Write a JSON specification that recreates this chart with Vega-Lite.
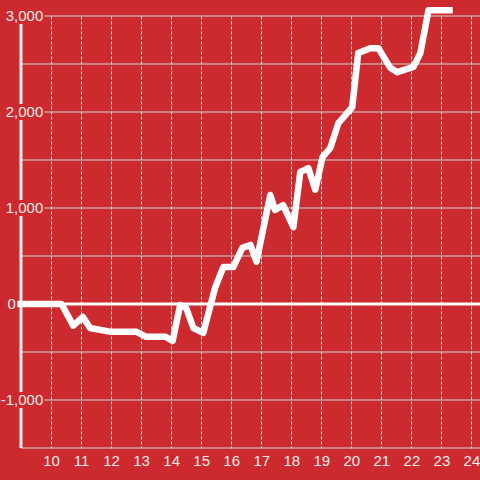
{
  "$schema": "https://vega.github.io/schema/vega-lite/v6.json",
  "autosize": {"type": "none"},
  "padding": {"left": 21, "top": 16, "right": 0, "bottom": 32},
  "width": 459,
  "height": 432,
  "background": "#cc2a2f",
  "config": {
    "view": {"stroke": null},
    "font": "Liberation Sans",
    "axisX": {
      "labelOverlap": false, "labelFlush": false, "tickCount": 15,
      "grid": true, "gridDash": [3, 2], "gridColor": "#e2e2e2", "gridWidth": 1,
      "domain": false, "ticks": false,
      "labelColor": "#f5eaea", "labelFontSize": 15, "labelPadding": 5, "title": null
    }
  },
  "datasets": {
    "series": [
      {"h": 8.88, "v": 0}, {"h": 10.35, "v": 0}, {"h": 10.74, "v": -225}, {"h": 11.06, "v": -135},
      {"h": 11.3, "v": -250}, {"h": 12.0, "v": -290}, {"h": 12.85, "v": -290}, {"h": 13.15, "v": -340},
      {"h": 13.8, "v": -340}, {"h": 14.05, "v": -385}, {"h": 14.3, "v": -10}, {"h": 14.5, "v": -40},
      {"h": 14.74, "v": -250}, {"h": 15.07, "v": -300}, {"h": 15.47, "v": 175}, {"h": 15.74, "v": 385},
      {"h": 16.07, "v": 385}, {"h": 16.37, "v": 585}, {"h": 16.64, "v": 615}, {"h": 16.84, "v": 440},
      {"h": 17.3, "v": 1135}, {"h": 17.46, "v": 980}, {"h": 17.73, "v": 1030}, {"h": 18.07, "v": 800},
      {"h": 18.3, "v": 1375}, {"h": 18.57, "v": 1415}, {"h": 18.8, "v": 1190}, {"h": 19.04, "v": 1530},
      {"h": 19.3, "v": 1625}, {"h": 19.57, "v": 1885}, {"h": 20.03, "v": 2050}, {"h": 20.23, "v": 2615},
      {"h": 20.63, "v": 2665}, {"h": 20.9, "v": 2665}, {"h": 21.3, "v": 2460}, {"h": 21.53, "v": 2415},
      {"h": 22.07, "v": 2470}, {"h": 22.3, "v": 2615}, {"h": 22.57, "v": 3060}, {"h": 23.38, "v": 3060}
    ],
    "grid": [
      {"v": -1500}, {"v": -1000}, {"v": -500}, {"v": 500}, {"v": 1000},
      {"v": 1500}, {"v": 2000}, {"v": 2500}, {"v": 3000}
    ],
    "labels": [
      {"v": 3000, "t": "3,000"}, {"v": 2000, "t": "2,000"}, {"v": 1000, "t": "1,000"}, {"v": -1000, "t": "-1,000"}
    ],
    "zero": [{"v": 0, "t": "0"}]
  },
  "layer": [
    {
      "data": {"name": "grid"},
      "mark": {"type": "rule", "color": "#d4d4d4", "strokeWidth": 1},
      "encoding": {
        "y": {
          "field": "v", "type": "quantitative",
          "scale": {"domain": [-1500, 3000], "nice": false, "zero": false},
          "axis": null
        }
      }
    },
    {
      "data": {"name": "zero"},
      "mark": {"type": "rule", "color": "#ffffff", "strokeWidth": 3},
      "encoding": {"y": {"field": "v", "type": "quantitative"}}
    },
    {
      "data": {"name": "series"},
      "mark": {"type": "line", "color": "#ffffff", "strokeWidth": 6.5, "strokeJoin": "round", "clip": false},
      "encoding": {
        "x": {
          "field": "h", "type": "quantitative",
          "scale": {"domain": [9, 24.285], "nice": false, "zero": false},
          "axis": {"values": [10, 11, 12, 13, 14, 15, 16, 17, 18, 19, 20, 21, 22, 23, 24]}
        },
        "y": {"field": "v", "type": "quantitative"}
      }
    },
    {
      "data": {"values": [{}]},
      "mark": {"type": "rule", "color": "#f4f0f0", "strokeWidth": 3},
      "encoding": {
        "x": {"datum": 9, "type": "quantitative"},
        "y": {"datum": -1500, "type": "quantitative"},
        "y2": {"datum": 2917}
      }
    },
    {
      "data": {"name": "labels"},
      "mark": {"type": "rule", "color": "#cc2a2f", "strokeWidth": 16, "strokeCap": "butt"},
      "encoding": {
        "x": {"datum": 8.31, "type": "quantitative"},
        "x2": {"datum": 9.776},
        "y": {"field": "v", "type": "quantitative"}
      }
    },
    {
      "data": {"name": "labels"},
      "mark": {"type": "text", "align": "right", "baseline": "middle", "fontSize": 15, "color": "#f5eaea"},
      "encoding": {
        "x": {"datum": 9.743, "type": "quantitative"},
        "y": {"field": "v", "type": "quantitative"},
        "text": {"field": "t"}
      }
    },
    {
      "data": {"name": "zero"},
      "mark": {"type": "text", "align": "right", "baseline": "middle", "fontSize": 15, "color": "#f5eaea"},
      "encoding": {
        "x": {"datum": 8.83, "type": "quantitative"},
        "y": {"field": "v", "type": "quantitative"},
        "text": {"field": "t"}
      }
    }
  ]
}
